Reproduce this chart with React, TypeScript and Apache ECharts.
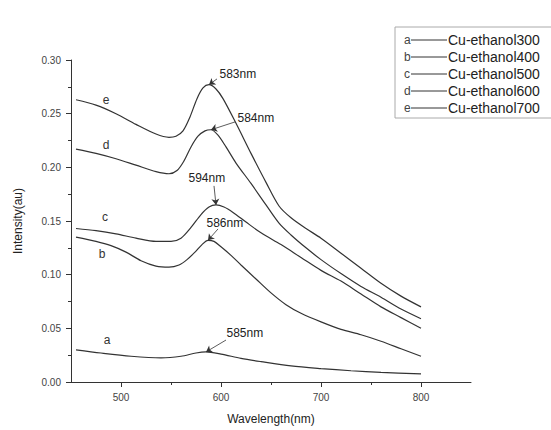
import React, { useEffect, useRef } from 'react';
import * as echarts from 'echarts';

const seriesNames = ['Cu-ethanol300', 'Cu-ethanol400', 'Cu-ethanol500', 'Cu-ethanol600', 'Cu-ethanol700'];
const curveLetters = ['a', 'b', 'c', 'd', 'e'];
const peakLabels = ['585nm', '586nm', '594nm', '584nm', '583nm'];
const xTickValues = [500, 600, 700, 800];
const xMinorTickValues = [550, 650, 750];

const curveA: [number, number][] = [
  [455, 0.030], [480, 0.027], [510, 0.024], [540, 0.0225], [560, 0.024], [575, 0.027], [585, 0.028],
  [600, 0.026], [620, 0.022], [640, 0.019], [670, 0.015], [700, 0.0125], [730, 0.0105], [760, 0.009], [800, 0.0075],
];
const curveB: [number, number][] = [
  [455, 0.135], [475, 0.131], [490, 0.127], [505, 0.121], [520, 0.113], [535, 0.108], [548, 0.107], [558, 0.109],
  [566, 0.114], [574, 0.121], [581, 0.128], [587, 0.132], [593, 0.131], [600, 0.126], [610, 0.118], [620, 0.109],
  [635, 0.096], [650, 0.083], [665, 0.072], [680, 0.064], [700, 0.056], [720, 0.049], [740, 0.044], [760, 0.038],
  [780, 0.031], [800, 0.024],
];
const curveC: [number, number][] = [
  [455, 0.143], [475, 0.141], [495, 0.138], [515, 0.134], [535, 0.131], [550, 0.131], [560, 0.134], [570, 0.144],
  [580, 0.156], [588, 0.163], [595, 0.165], [603, 0.163], [612, 0.158], [625, 0.149], [640, 0.139], [660, 0.128],
  [680, 0.116], [700, 0.104], [720, 0.094], [740, 0.082], [760, 0.070], [780, 0.060], [800, 0.050],
];
const curveD: [number, number][] = [
  [455, 0.217], [475, 0.213], [495, 0.208], [515, 0.202], [535, 0.196], [548, 0.194], [556, 0.197], [563, 0.206],
  [570, 0.219], [577, 0.229], [584, 0.234], [590, 0.235], [597, 0.230], [605, 0.219], [615, 0.204], [630, 0.185],
  [645, 0.165], [658, 0.148], [670, 0.137], [685, 0.125], [700, 0.114], [720, 0.101], [740, 0.089], [760, 0.079],
  [780, 0.068], [800, 0.059],
];
const curveE: [number, number][] = [
  [455, 0.263], [475, 0.258], [495, 0.250], [515, 0.240], [535, 0.231], [548, 0.228], [555, 0.229], [562, 0.234],
  [569, 0.247], [576, 0.264], [582, 0.274], [588, 0.277], [595, 0.273], [602, 0.264], [615, 0.241], [630, 0.213],
  [645, 0.186], [658, 0.164], [670, 0.153], [685, 0.143], [700, 0.134], [720, 0.120], [740, 0.106], [760, 0.092],
  [780, 0.080], [800, 0.070],
];
const curves = [curveA, curveB, curveC, curveD, curveE];

// annotation placement (data coords): text anchor, arrow tail, curve letter
const textAnchors: [number, number][] = [[605, 0.0457], [585, 0.148], [567, 0.190], [616, 0.246], [598, 0.287]];
const arrowTails: [number, number][] = [[605, 0.0391], [597, 0.1426], [593, 0.1827], [614, 0.2423], [596, 0.2824]];
const letterAnchors: [number, number][] = [[486, 0.039], [481, 0.119], [484, 0.154], [485, 0.221], [485, 0.263]];

const FONT = 'Liberation Sans, Arial, sans-serif';
const INK = '#333';

function peakOf(data: [number, number][]): [number, number] {
  const inRange = data.filter((p) => p[0] > 560 && p[0] < 620);
  return inRange.reduce((a, b) => (b[1] > a[1] ? b : a), inRange[0]);
}

export default function App() {
  const ref = useRef<HTMLDivElement>(null);
  useEffect(() => {
    if (!ref.current) return;
    const chart = echarts.init(ref.current, undefined, { renderer: 'svg' });

    const series: any[] = curves.map((data, i) => {
      const tip = peakOf(data);
      return {
        name: seriesNames[i],
        type: 'line',
        data,
        smooth: 0.3,
        showSymbol: false,
        lineStyle: { color: INK, width: 1.2 },
        itemStyle: { color: INK },
        markLine: {
          silent: true,
          symbol: ['none', 'arrow'],
          symbolSize: 6,
          lineStyle: { color: INK, width: 0.8, type: 'solid' },
          label: { show: false },
          data: [[{ coord: arrowTails[i] }, { coord: tip }]],
        },
        markPoint: {
          silent: true,
          symbol: 'circle',
          symbolSize: 1,
          itemStyle: { color: 'rgba(0,0,0,0)' },
          data: [
            {
              coord: textAnchors[i],
              label: { show: true, position: 'right', distance: 0, formatter: peakLabels[i], color: '#222', fontSize: 12, fontFamily: FONT },
            },
            {
              coord: letterAnchors[i],
              label: { show: true, position: 'inside', formatter: curveLetters[i], color: '#333', fontSize: 12, fontFamily: FONT },
            },
          ],
        },
      };
    });

    const rowY = [40, 57, 74, 91, 108];
    const legendChildren: any[] = [
      { type: 'rect', shape: { x: 395, y: 27, width: 170, height: 91 }, style: { fill: '#fff', stroke: '#aaa', lineWidth: 1 } },
    ];
    seriesNames.forEach((name, i) => {
      legendChildren.push(
        { type: 'text', x: 404, y: rowY[i], style: { text: curveLetters[i], fill: '#444', fontSize: 12, fontFamily: FONT, verticalAlign: 'middle' } },
        { type: 'line', shape: { x1: 411, y1: rowY[i], x2: 447, y2: rowY[i] }, style: { stroke: INK, lineWidth: 1 } },
        { type: 'text', x: 448, y: rowY[i], style: { text: name, fill: '#222', fontSize: 14, fontFamily: FONT, verticalAlign: 'middle' } },
      );
    });

    chart.setOption({
      animation: false,
      backgroundColor: '#fff',
      grid: { left: 71, right: 80, top: 60, bottom: 48 },
      xAxis: [
        {
          type: 'value',
          min: 450,
          max: 850,
          name: 'Wavelength(nm)',
          nameLocation: 'middle',
          nameGap: 31,
          nameTextStyle: { fontSize: 12, fontFamily: FONT, color: '#222' },
          axisLine: { lineStyle: { color: INK, width: 1 } },
          axisTick: { show: true, length: 5, customValues: xTickValues, lineStyle: { color: INK } },
          axisLabel: { customValues: xTickValues, fontSize: 10, fontFamily: FONT, color: '#444', margin: 10 },
          splitLine: { show: false },
        },
        {
          type: 'value',
          min: 450,
          max: 850,
          position: 'bottom',
          axisLine: { show: false },
          axisTick: { show: true, length: 3, customValues: xMinorTickValues, lineStyle: { color: INK } },
          axisLabel: { show: false },
          splitLine: { show: false },
        },
      ],
      yAxis: {
        type: 'value',
        min: 0,
        max: 0.3,
        interval: 0.05,
        name: 'Intensity(au)',
        nameLocation: 'middle',
        nameGap: 47,
        nameTextStyle: { fontSize: 12, fontFamily: FONT, color: '#222' },
        axisLine: { show: true, lineStyle: { color: INK, width: 1 } },
        axisTick: { show: true, length: 5, lineStyle: { color: INK } },
        minorTick: { show: true, splitNumber: 2, length: 3, lineStyle: { color: INK } },
        axisLabel: { fontSize: 10, fontFamily: FONT, color: '#444', margin: 10, formatter: (v: number) => v.toFixed(2) },
        splitLine: { show: false },
      },
      series,
      graphic: [{ type: 'group', children: legendChildren }],
    });
    return () => chart.dispose();
  }, []);
  return <div ref={ref} style={{ position: 'fixed', left: 0, top: 0, width: 551, height: 430 }} />;
}
